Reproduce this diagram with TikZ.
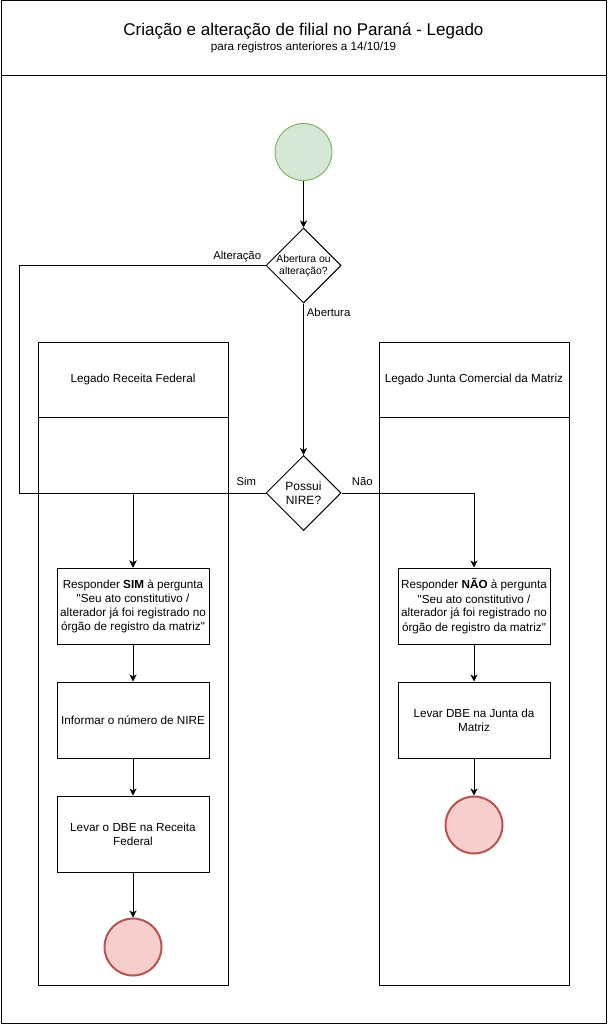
\documentclass[tikz,border=0pt]{standalone}
\usepackage{fontspec}
\setmainfont{Liberation Sans}[Ligatures=TeXOff]
\usetikzlibrary{arrows.meta,shapes.geometric}
\definecolor{startfill}{HTML}{D5E8D4}
\definecolor{startline}{HTML}{82B366}
\definecolor{endfill}{HTML}{F8CECC}
\definecolor{endline}{HTML}{B85450}
\newcommand\fsz[2]{\fontsize{#1pt}{#2pt}\selectfont}
\tikzset{
  frame/.style={draw=black, line width=1pt},
  startc/.style={circle, minimum size=57pt, inner sep=0, fill=startfill, draw=startline, line width=1pt},
  endc/.style={circle, minimum size=57pt, inner sep=0, fill=endfill, draw=endline, line width=2pt},
  dec/.style={diamond, draw=black, minimum width=75pt, minimum height=75pt, inner sep=0, line width=1pt},
  proc/.style={rectangle, draw=black, minimum width=152pt, minimum height=76pt, inner sep=0, align=center, font=\fsz{11.7}{14}, line width=1pt},
  lanehead/.style={rectangle, draw=black, minimum width=190pt, minimum height=75pt, inner sep=0, font=\fsz{11.7}{14}, line width=1pt},
  lanebody/.style={rectangle, draw=black, minimum width=190pt, minimum height=568pt, inner sep=0, line width=1pt},
  arr/.style={-{Stealth[length=7pt,width=7pt,inset=2pt]}, line width=0.9pt},
  lbl/.style={font=\fsz{11.3}{13}, inner sep=0}
}
\begin{document}
\begin{tikzpicture}[x=1pt,y=-1pt]
\useasboundingbox (0,0) rectangle (607,1024);
% pool
\node[frame, rectangle, minimum width=605pt, minimum height=75pt, inner sep=0] (header) at (303.5,38.5) {};
\node[frame, rectangle, minimum width=605pt, minimum height=947pt, inner sep=0] (pool) at (303.5,549.5) {};
\node[anchor=base, inner sep=0, font=\fsz{17}{20}] (title) at (303.5,35.7) {Criação e alteração de filial no Paraná - Legado};
\node[anchor=base, inner sep=0, font=\fsz{11.7}{14}] (subtitle) at (303.5,50.5) {para registros anteriores a 14/10/19};
% lanes
\node[lanehead] (lh1) at (133,379.5) {Legado Receita Federal};
\node[lanebody] (lb1) at (133,701) {};
\node[lanehead] (lh2) at (474,379.5) {Legado Junta Comercial da Matriz};
\node[lanebody] (lb2) at (474,701) {};
% nodes
\node[startc] (start) at (303.5,152) {};
\node[dec, label={[font=\fsz{10.4}{11.7}, align=center]center:Abertura ou\\alteração?}] (d1) at (303.5,265.5) {};
\node[dec, label={[font=\fsz{12}{14.3}, align=center]center:Possui\\NIRE?}] (d2) at (303.5,493) {};
\node[proc] (b1) at (133,606) {Responder \textbf{SIM} à pergunta\\"Seu ato constitutivo /\\alterador já foi registrado no\\órgão de registro da matriz"};
\node[proc] (b2) at (133,720) {Informar o número de NIRE};
\node[proc] (b3) at (133,834) {Levar o DBE na Receita\\Federal};
\node[endc] (e1) at (133,947) {};
\node[proc] (r1) at (474,606) {Responder \textbf{NÃO} à pergunta\\"Seu ato constitutivo /\\alterador já foi registrado no\\órgão de registro da matriz"};
\node[proc] (r2) at (474,720) {Levar DBE na Junta da\\Matriz};
\node[endc] (e2) at (474,825) {};
\coordinate (altc) at (19,493);
% edges
\draw[arr] (start) -- (d1);
\draw[arr] (d1.south) node[lbl, anchor=base west, xshift=3pt, yshift=-13pt] {Abertura} -- (d2.north);
\draw[arr] (d1.west) node[lbl, anchor=base east, xshift=-4pt, yshift=6.5pt] {Alteração} -| (altc) -| (b1.north);
\draw[arr] (d2.west) node[lbl, anchor=base east, xshift=-9pt, yshift=8pt] {Sim} -| (b1.north);
\draw[arr] (d2.east) node[lbl, anchor=base west, xshift=10pt, yshift=8pt] {Não} -| (r1.north);
\draw[arr] (b1) -- (b2);
\draw[arr] (b2) -- (b3);
\draw[arr] (b3) -- (e1);
\draw[arr] (r1) -- (r2);
\draw[arr] (r2) -- (e2);
\end{tikzpicture}
\end{document}
